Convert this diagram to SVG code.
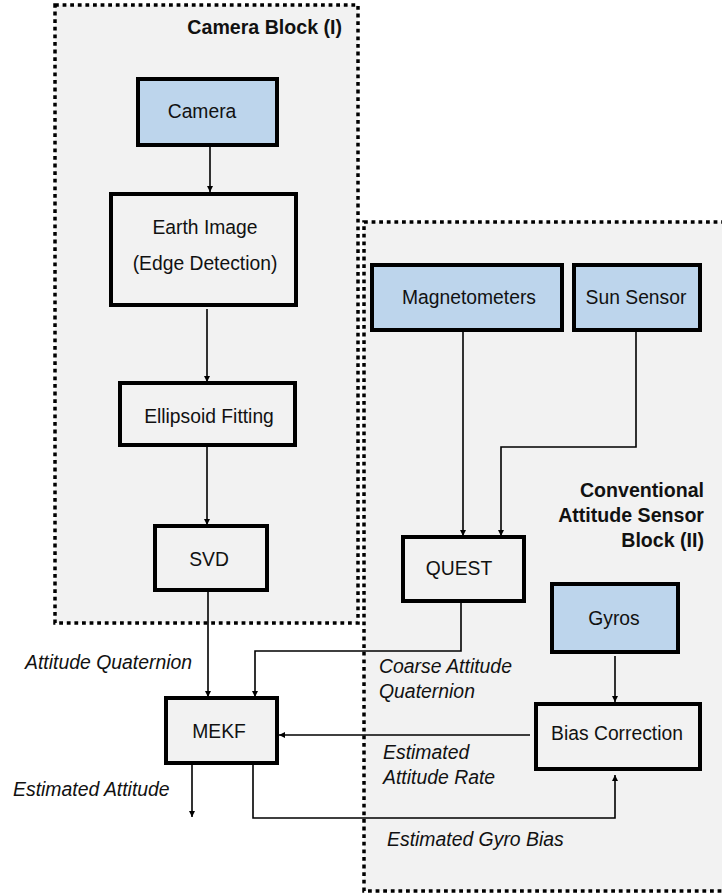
<svg xmlns="http://www.w3.org/2000/svg" width="722" height="895" viewBox="0 0 722 895">
<style>
.blk{fill:#f2f2f2;stroke:#000;stroke-width:3.5;stroke-dasharray:3.8 3.8}
.box{fill:#f2f2f2;stroke:#000;stroke-width:4}
.src{fill:#bdd5ec;stroke:#000;stroke-width:4}
.t{font-family:"Liberation Sans",Arial,sans-serif;font-size:19.3px;fill:#111;text-anchor:middle}
.b{font-family:"Liberation Sans",Arial,sans-serif;font-size:19.6px;font-weight:bold;fill:#111;text-anchor:end}
.i{font-family:"Liberation Sans",Arial,sans-serif;font-size:19.4px;font-style:italic;fill:#111}
.c{fill:none;stroke:#000;stroke-width:1.6}
</style>
<defs>
<marker id="ah" viewBox="0 0 10 10" refX="10" refY="5" markerWidth="6" markerHeight="6" orient="auto" markerUnits="userSpaceOnUse">
<path d="M0,0 L10,5 L0,10 z" fill="#000"/>
</marker>
</defs>
<rect x="0" y="0" width="722" height="895" fill="#fff"/>
<g id="camera-block">
<rect class="blk" x="55" y="5" width="303" height="618"/>
<text class="b" x="342" y="34">Camera Block (I)</text>
</g>
<g id="sensor-block">
<rect class="blk" x="364" y="222" width="380" height="669"/>
<text class="b" x="704" y="497">Conventional</text>
<text class="b" x="704" y="522">Attitude Sensor</text>
<text class="b" x="704" y="547">Block (II)</text>
</g>
<g id="connectors">
<line class="c" x1="210" y1="145" x2="210" y2="192" marker-end="url(#ah)"/>
<line class="c" x1="207" y1="309" x2="207" y2="382" marker-end="url(#ah)"/>
<line class="c" x1="207" y1="446" x2="207" y2="525" marker-end="url(#ah)"/>
<line class="c" x1="208" y1="591" x2="208" y2="697" marker-end="url(#ah)"/>
<polyline class="c" points="461,601 461,651 255,651 255,697" marker-end="url(#ah)"/>
<line class="c" x1="463" y1="331" x2="463" y2="536" marker-end="url(#ah)"/>
<polyline class="c" points="636,331 636,447 501,447 501,536" marker-end="url(#ah)"/>
<line class="c" x1="615" y1="656" x2="615" y2="702" marker-end="url(#ah)"/>
<line class="c" x1="530" y1="735" x2="279" y2="735" marker-end="url(#ah)"/>
<line class="c" x1="192" y1="764" x2="192" y2="817" marker-end="url(#ah)"/>
<polyline class="c" points="253,764 253,818 615,818 615,775" marker-end="url(#ah)"/>
</g>
<g id="camera">
<rect class="src" x="138" y="79" width="139" height="66"/>
<text class="t" x="202" y="118">Camera</text>
</g>
<g id="earth-image">
<rect class="box" x="111" y="194" width="185" height="111"/>
<text class="t" x="205" y="234">Earth Image</text>
<text class="t" x="205" y="270">(Edge Detection)</text>
</g>
<g id="ellipsoid-fitting">
<rect class="box" x="120" y="383" width="175" height="62"/>
<text class="t" x="209" y="423">Ellipsoid Fitting</text>
</g>
<g id="svd">
<rect class="box" x="155" y="526" width="112" height="64"/>
<text class="t" x="209" y="566">SVD</text>
</g>
<g id="mekf">
<rect class="box" x="166" y="698" width="111" height="65"/>
<text class="t" x="219" y="738">MEKF</text>
</g>
<g id="magnetometers">
<rect class="src" x="372" y="265" width="190" height="65"/>
<text class="t" x="469" y="304">Magnetometers</text>
</g>
<g id="sun-sensor">
<rect class="src" x="574" y="265" width="126" height="65"/>
<text class="t" x="636" y="304">Sun Sensor</text>
</g>
<g id="quest">
<rect class="box" x="403" y="537" width="121" height="64"/>
<text class="t" x="459" y="575">QUEST</text>
</g>
<g id="gyros">
<rect class="src" x="552" y="584" width="126" height="68"/>
<text class="t" x="614" y="625">Gyros</text>
</g>
<g id="bias-correction">
<rect class="box" x="536" y="704" width="164" height="65"/>
<text class="t" x="617" y="740">Bias Correction</text>
</g>
<g id="labels">
<text class="i" x="25" y="669">Attitude Quaternion</text>
<text class="i" x="13" y="796">Estimated Attitude</text>
<text class="i" x="379" y="673">Coarse Attitude</text>
<text class="i" x="379" y="698">Quaternion</text>
<text class="i" x="383" y="759">Estimated</text>
<text class="i" x="383" y="784">Attitude Rate</text>
<text class="i" x="387" y="846">Estimated Gyro Bias</text>
</g>
</svg>
